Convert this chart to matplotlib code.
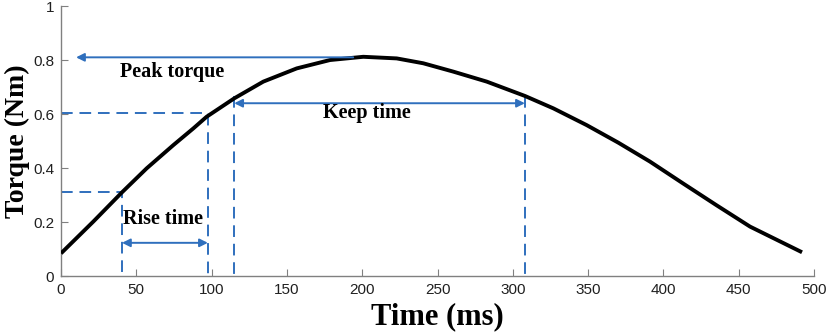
import matplotlib
matplotlib.use("Agg")
import matplotlib.pyplot as plt

# torque curve
time_ms = [0, 21.5, 40.3, 56.9, 74.6, 87.9, 96.7, 115, 134.3, 156.5, 178.6, 200.7,
           222.9, 240.5, 260.5, 282.7, 308, 326.9, 349, 370, 391, 413, 435, 457.5, 492]
torque = [0.084, 0.202, 0.309, 0.399, 0.485, 0.547, 0.590, 0.658, 0.720, 0.769, 0.800,
          0.812, 0.806, 0.788, 0.757, 0.720, 0.667, 0.621, 0.559, 0.494, 0.424, 0.343,
          0.263, 0.183, 0.088]

# annotation values
peak_t, peak_v = 194, 0.81
peak_arrow_end = 10
rise_start_t, rise_start_v = 40.5, 0.31
rise_end_t, rise_end_v = 97.5, 0.605
rise_arrow_v = 0.123
keep_start_t, keep_end_t = 115, 308
keep_top_v = 0.665
keep_arrow_v = 0.64

xticks = list(range(0, 501, 50))
yticks = [0, 0.2, 0.4, 0.6, 0.8, 1]
ytick_labels = ["0", "0.2", "0.4", "0.6", "0.8", "1"]

blue = "#2f6fbd"
dash = (0, (6, 3.5))
serif = "Liberation Serif"

fig = plt.figure(figsize=(8.29, 3.35), dpi=100)
ax = fig.add_axes([0.0736, 0.176, 0.9084, 0.806])

ax.plot(time_ms, torque, color="black", lw=2.8, solid_capstyle="butt",
        solid_joinstyle="round", zorder=3)

# peak torque
ax.annotate("", xy=(peak_arrow_end, peak_v), xytext=(peak_t, peak_v),
            arrowprops=dict(arrowstyle="-|>", color=blue, lw=1.4, mutation_scale=12,
                            shrinkA=0, shrinkB=0))
ax.text(74, 0.755, "Peak torque", family=serif, weight="bold",
        fontsize=14.5, ha="center", va="center")

# rise time
ax.plot([0, rise_start_t, rise_start_t], [rise_start_v, rise_start_v, 0],
        color=blue, lw=1.4, ls=dash)
ax.plot([0, rise_end_t, rise_end_t], [rise_end_v, rise_end_v, 0],
        color=blue, lw=1.4, ls=dash)
ax.annotate("", xy=(rise_start_t, rise_arrow_v), xytext=(rise_end_t, rise_arrow_v),
            arrowprops=dict(arrowstyle="<|-|>", color=blue, lw=1.4, mutation_scale=12,
                            shrinkA=0, shrinkB=0))
ax.text(rise_start_t + 0.5, 0.21, "Rise time", family=serif, weight="bold",
        fontsize=14.5, ha="left", va="center")

# keep time
ax.plot([keep_start_t, keep_start_t], [keep_top_v, 0], color=blue, lw=1.4, ls=dash)
ax.plot([keep_end_t, keep_end_t], [keep_top_v, 0], color=blue, lw=1.4, ls=dash)
ax.annotate("", xy=(keep_start_t, keep_arrow_v), xytext=(keep_end_t, keep_arrow_v),
            arrowprops=dict(arrowstyle="<|-|>", color=blue, lw=1.4, mutation_scale=12,
                            shrinkA=0, shrinkB=0))
ax.text(203, 0.603, "Keep time", family=serif, weight="bold",
        fontsize=14.5, ha="center", va="center")

ax.set_xlim(0, 500)
ax.set_ylim(0, 1)
ax.set_xticks(xticks)
ax.set_yticks(yticks)
ax.set_yticklabels(ytick_labels)
for side in ["top", "right"]:
    ax.spines[side].set_visible(False)
for side in ["left", "bottom"]:
    ax.spines[side].set_color("#808080")
    ax.spines[side].set_linewidth(1.0)
ax.tick_params(direction="in", length=5, color="#808080", labelsize=11,
               labelcolor="#202020", pad=5)
for lab in ax.get_xticklabels() + ax.get_yticklabels():
    lab.set_family("Liberation Sans")

ax.set_xlabel("Time (ms)", family=serif, weight="bold", fontsize=22, labelpad=4)
ax.set_ylabel("Torque (Nm)", family=serif, weight="bold", fontsize=20, labelpad=2)

fig.savefig("out.png", dpi=100)
